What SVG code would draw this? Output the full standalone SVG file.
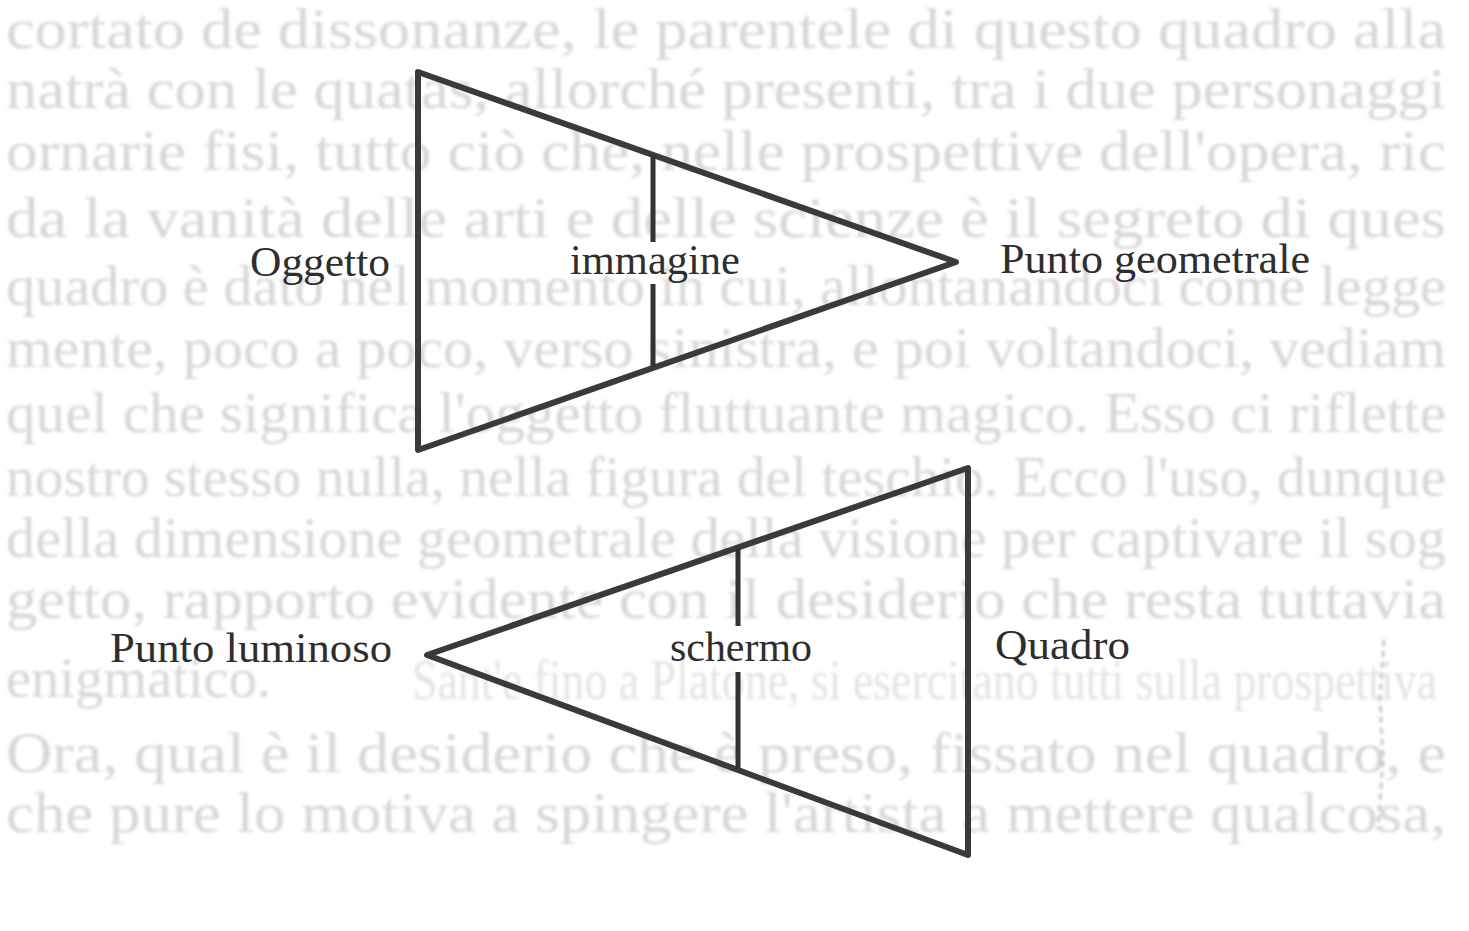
<svg xmlns="http://www.w3.org/2000/svg" width="1469" height="931" viewBox="0 0 1469 931">
  <defs>
    <filter id="soft" x="-2%" y="-20%" width="104%" height="140%">
      <feGaussianBlur stdDeviation="1.4"/>
    </filter>
    <style>
      .bg { font-family: "Liberation Serif", "DejaVu Serif", serif; font-size: 56px; fill: #d7d7d7; }
      .edge { fill: none; stroke: #3a3a3a; stroke-width: 6; stroke-linejoin: round; stroke-linecap: butt; }
      .divider { fill: none; stroke: #333333; stroke-width: 5; }
      .label { font-family: "Liberation Serif", "DejaVu Serif", serif; font-size: 42px; fill: #2e2e2e; }
    </style>
  </defs>
  <rect width="1469" height="931" fill="#ffffff"/>

  <g id="show-through" filter="url(#soft)">
    <text class="bg" x="6" y="48" textLength="1440" lengthAdjust="spacingAndGlyphs">cortato de dissonanze, le parentele di questo quadro alla</text>
    <text class="bg" x="6" y="108" textLength="1440" lengthAdjust="spacingAndGlyphs">natrà con le quatas, allorché presenti, tra i due personaggi</text>
    <text class="bg" x="6" y="170" textLength="1440" lengthAdjust="spacingAndGlyphs">ornarie fisi, tutto ciò che, nelle prospettive dell'opera, ric</text>
    <text class="bg" x="6" y="237" textLength="1440" lengthAdjust="spacingAndGlyphs">da la vanità delle arti e delle scienze è il segreto di ques</text>
    <text class="bg" x="6" y="305" textLength="1440" lengthAdjust="spacingAndGlyphs">quadro è dato nel momento in cui, allontanandoci come legge</text>
    <text class="bg" x="6" y="367" textLength="1440" lengthAdjust="spacingAndGlyphs">mente, poco a poco, verso sinistra, e poi voltandoci, vediam</text>
    <text class="bg" x="6" y="432" textLength="1440" lengthAdjust="spacingAndGlyphs">quel che significa l'oggetto fluttuante magico. Esso ci riflette</text>
    <text class="bg" x="6" y="496" textLength="1440" lengthAdjust="spacingAndGlyphs">nostro stesso nulla, nella figura del teschio. Ecco l'uso, dunque</text>
    <text class="bg" x="6" y="557" textLength="1440" lengthAdjust="spacingAndGlyphs">della dimensione geometrale della visione per captivare il sog</text>
    <text class="bg" x="6" y="618" textLength="1440" lengthAdjust="spacingAndGlyphs">getto, rapporto evidente con il desiderio che resta tuttavia</text>
    <text class="bg" x="6" y="697" textLength="265" lengthAdjust="spacingAndGlyphs">enigmatico.</text>
    <text class="bg" x="412" y="699" font-size="44" textLength="1025" lengthAdjust="spacingAndGlyphs" fill-opacity="0.7">Sant'e fino a Platone, si esercitano tutti sulla prospettiva</text>
    <text class="bg" x="6" y="772" textLength="1440" lengthAdjust="spacingAndGlyphs">Ora, qual è il desiderio che è preso, fissato nel quadro, e</text>
    <text class="bg" x="6" y="832" textLength="1440" lengthAdjust="spacingAndGlyphs">che pure lo motiva a spingere l'artista a mettere qualcosa,</text>
    <path d="M1384 640 L1380 700 L1383 760 L1378 830" fill="none" stroke="#c4c4c4" stroke-width="3" stroke-dasharray="6 5"/>
  </g>

  <g id="connectors">
    <g id="triangle-geometral">
      <path class="edge" d="M418 72 L956 262 L418 450 Z"/>
      <line class="divider" x1="653" y1="155" x2="653" y2="242"/>
      <line class="divider" x1="653" y1="284" x2="653" y2="367"/>
    </g>
    <g id="triangle-luminous">
      <path class="edge" d="M427 655 L968 468 L968 855 Z"/>
      <line class="divider" x1="738" y1="548" x2="738" y2="626"/>
      <line class="divider" x1="738" y1="672" x2="738" y2="769"/>
    </g>
  </g>

  <g id="node-oggetto"><text class="label" x="250" y="276" textLength="140" lengthAdjust="spacingAndGlyphs">Oggetto</text></g>
  <g id="node-immagine"><text class="label" x="570" y="274" textLength="170" lengthAdjust="spacingAndGlyphs">immagine</text></g>
  <g id="node-punto-geometrale"><text class="label" x="1000" y="273" textLength="310" lengthAdjust="spacingAndGlyphs">Punto geometrale</text></g>
  <g id="node-punto-luminoso"><text class="label" x="110" y="662" textLength="282" lengthAdjust="spacingAndGlyphs">Punto luminoso</text></g>
  <g id="node-schermo"><text class="label" x="670" y="661" textLength="142" lengthAdjust="spacingAndGlyphs">schermo</text></g>
  <g id="node-quadro"><text class="label" x="995" y="659" textLength="135" lengthAdjust="spacingAndGlyphs">Quadro</text></g>
</svg>
